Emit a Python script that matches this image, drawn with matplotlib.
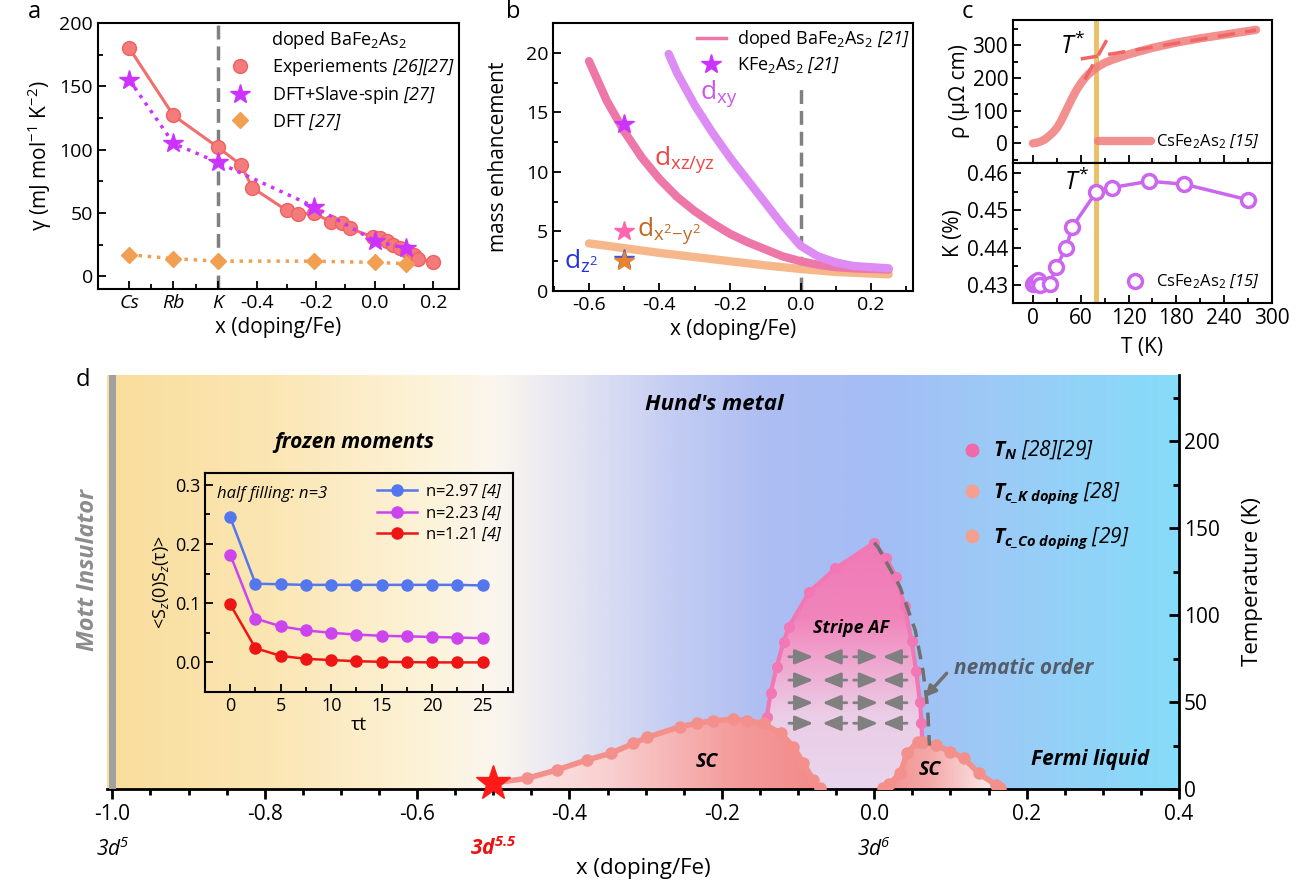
import numpy as np
import matplotlib
matplotlib.use('Agg')
import matplotlib.pyplot as plt
from matplotlib.lines import Line2D
from matplotlib.patches import Polygon
from matplotlib.colors import LinearSegmentedColormap
from matplotlib.ticker import MultipleLocator, FixedLocator

plt.rcParams['font.family'] = ['Open Sans', 'DejaVu Sans']
plt.rcParams['mathtext.fontset'] = 'custom'
plt.rcParams['mathtext.rm'] = 'Open Sans'
plt.rcParams['mathtext.it'] = 'Open Sans:italic'
plt.rcParams['mathtext.sf'] = 'Open Sans:italic'
plt.rcParams['mathtext.bf'] = 'Open Sans:italic:bold'
plt.rcParams['axes.linewidth'] = 1.5
plt.rcParams['axes.unicode_minus'] = False

# ---------------- data: panel a ----------------
cat_names = ['Cs', 'Rb', 'K']
cat_pos = [-0.836, -0.686, -0.535]
exp_x = cat_pos + [-0.456, -0.417, -0.30, -0.26, -0.207, -0.15, -0.11, -0.086,
                   -0.006, 0.017, 0.04, 0.063, 0.086, 0.109, 0.132, 0.149, 0.2]
exp_gamma = [180, 127, 102, 88, 70, 52, 49, 50, 43, 42, 38,
             31, 30, 28, 25, 22, 20, 17, 14, 11]
theo_x = cat_pos + [-0.207, 0.0, 0.106]
slave_gamma = [155, 105, 90, 55, 28, 22]
dft_gamma = [17, 14, 12, 12, 11, 10]

# ---------------- data: panel b ----------------
xz_x = [-0.6, -0.55, -0.5, -0.45, -0.4, -0.35, -0.3, -0.25, -0.2, -0.15, -0.1,
        -0.05, 0.0, 0.05, 0.1, 0.15, 0.2, 0.25]
xz_m = [19.3, 16.0, 13.4, 11.2, 9.4, 7.9, 6.7, 5.7, 4.8, 4.1, 3.5,
        2.9, 2.5, 2.2, 2.0, 1.9, 1.85, 1.8]
xy_x = [-0.374, -0.35, -0.3, -0.25, -0.2, -0.15, -0.1, -0.05, 0.0, 0.05, 0.1, 0.15, 0.2, 0.25]
xy_m = [19.9, 18.3, 15.6, 13.3, 11.2, 9.3, 7.4, 5.5, 3.8, 2.9, 2.4, 2.1, 2.0, 1.9]
eg_x = [-0.6, -0.5, -0.4, -0.3, -0.2, -0.1, 0.0, 0.1, 0.25]
x2y2_m = [4.0, 3.6, 3.2, 2.85, 2.5, 2.15, 1.85, 1.6, 1.4]
z2_m = [3.8, 3.4, 3.0, 2.65, 2.3, 1.95, 1.65, 1.45, 1.3]
kfe_x = -0.5
kfe_stars = [14.0, 5.0, 2.7, 2.5]
kfe_colors = ['#cc33ff', '#ff66b0', '#4455dd', '#e8842c']

# ---------------- data: panel c ----------------
rho_T = [0, 5, 10, 15, 20, 25, 30, 35, 40, 45, 50, 55, 60, 65, 70, 75, 80,
         90, 100, 120, 150, 180, 210, 240, 280]
rho = [0, 2, 6, 12, 22, 33, 47, 67, 92, 117, 142, 164, 183, 199, 212, 223, 232,
       246, 256, 272, 292, 308, 321, 332, 347]
fit_hi_T = [60, 280]
fit_hi_rho = [258, 346]
fit_lo_T = [65, 97]
fit_lo_rho = [195, 335]
nmr_T = [0, 3, 6, 9, 21, 29, 42, 49, 79, 99, 146, 190, 270]
nmr_K = [0.4302, 0.4308, 0.4312, 0.4300, 0.4302, 0.4347, 0.4400, 0.4454,
         0.4548, 0.4561, 0.4578, 0.4570, 0.4528]
t_star = 80

# ---------------- data: panel d ----------------
tn_x = [-0.141, -0.136, -0.128, -0.119, -0.112, -0.085, -0.051, 0.0,
        0.015, 0.029, 0.040, 0.049, 0.055, 0.060, 0.062, 0.063]
tn_T = [41.6, 55.0, 70.3, 84.7, 93.3, 113.4, 126.8, 141.6,
        133, 122, 105, 85, 68, 50, 38, 27]
tck_x = [-0.5, -0.456, -0.417, -0.377, -0.346, -0.316, -0.298, -0.255, -0.233,
         -0.211, -0.185, -0.167, -0.145, -0.123, -0.106, -0.093, -0.080, -0.071]
tck_T = [3.5, 6.1, 10.9, 16.7, 20.5, 26.2, 29.7, 35.8, 37.7,
         39.3, 40.0, 39.3, 37.7, 32.0, 24.3, 14.8, 5.2, 0.5]
tcco_x = [0.012, 0.020, 0.034, 0.043, 0.057, 0.064, 0.081, 0.0995, 0.118, 0.137, 0.16, 0.165]
tcco_T = [0.5, 3.0, 9.0, 20.5, 27.2, 27.2, 25.3, 21.5, 17.6, 9.0, 2.3, 0.5]
nem_x = [0.0, 0.005, 0.034, 0.054, 0.064, 0.070, 0.0725]
nem_T = [141.6, 139, 116, 91, 68, 47, 25]

tau = [0, 2.5, 5, 7.5, 10, 12.5, 15, 17.5, 20, 22.5, 25]
s297 = [0.245, 0.133, 0.132, 0.131, 0.131, 0.131, 0.131, 0.131, 0.131, 0.131, 0.130]
s223 = [0.182, 0.074, 0.061, 0.054, 0.050, 0.047, 0.045, 0.044, 0.043, 0.042, 0.041]
s121 = [0.098, 0.024, 0.011, 0.006, 0.004, 0.002, 0.001, 0.0005, 0.0, 0.0, 0.0]

W, H = 1309, 890
fig = plt.figure(figsize=(W / 100, H / 100), dpi=100)


def box(l, t, r, b):
    return [l / W, 1 - b / H, (r - l) / W, (b - t) / H]


def style_in(ax, size):
    ax.tick_params(which='both', direction='in', labelsize=size, width=1.3)
    ax.tick_params(which='major', length=6)
    ax.tick_params(which='minor', length=3.5)


# ================= panel a =================
ax_a = fig.add_axes(box(98, 23, 459, 289))
ax_a.axvline(cat_pos[2], color='#808080', lw=2.5, dashes=(4, 2), zorder=1)
ax_a.plot(exp_x, exp_gamma, '-', color='#f26d6d', lw=2.2, zorder=2)
ax_a.plot(exp_x, exp_gamma, 'o', color='#f47b7b', ms=10, mec='#f26060', zorder=3,
          label=r'Experiements $\mathsf{[26][27]}$')
ax_a.plot(theo_x, slave_gamma, ':', color='#cc33ff', lw=2.5, zorder=4)
ax_a.plot(theo_x, slave_gamma, '*', color='#cc33ff', ms=15, zorder=5,
          label=r'DFT+Slave-spin $\mathsf{[27]}$')
ax_a.plot(theo_x, dft_gamma, ':', color='#f0a050', lw=2.5, zorder=4)
ax_a.plot(theo_x, dft_gamma, 'D', color='#f0a050', ms=8, zorder=5,
          label=r'DFT $\mathsf{[27]}$')
ax_a.set_xlim(-0.943, 0.287)
ax_a.set_ylim(-10, 200)
ax_a.set_xticks(cat_pos + [-0.4, -0.2, 0.0, 0.2])
ax_a.set_xticklabels(cat_names + ['-0.4', '-0.2', '0.0', '0.2'])
for lab in ax_a.get_xticklabels()[:3]:
    lab.set_fontstyle('italic')
ax_a.xaxis.set_minor_locator(FixedLocator([-0.761, -0.61, -0.3, -0.1, 0.1]))
ax_a.yaxis.set_major_locator(MultipleLocator(50))
ax_a.yaxis.set_minor_locator(MultipleLocator(25))
style_in(ax_a, 14)
ax_a.set_xlabel('x (doping/Fe)', fontsize=15, labelpad=4)
ax_a.set_ylabel(r'γ (mJ mol$^{-1}$ K$^{-2}$)', fontsize=15, labelpad=4)
ax_a.legend(loc='upper right', bbox_to_anchor=(1.02, 1.02), frameon=False,
            fontsize=13, title=r'doped BaFe$_2$As$_2$', title_fontsize=13,
            handletextpad=0.8, labelspacing=0.35, borderaxespad=0.2)

# ================= panel b =================
ax_b = fig.add_axes(box(553, 23, 913, 291))
ax_b.axvline(0.0, ymax=17 / 22.5, color='#808080', lw=2.5, dashes=(4, 2), zorder=1)
ax_b.plot(eg_x, z2_m, color='#5a5ae0', lw=1.3, zorder=2)
ax_b.plot(eg_x, x2y2_m, color='#f6b88a', lw=6, solid_capstyle='round', zorder=3)
ax_b.plot(xz_x, xz_m, color='#ee77aa', lw=6, solid_capstyle='round', zorder=3)
ax_b.plot(xy_x, xy_m, color='#dd8cf3', lw=6, solid_capstyle='round', zorder=3)
for val, col in zip(kfe_stars, kfe_colors):
    ax_b.plot(kfe_x, val, '*', color=col, ms=15, zorder=6)
ax_b.text(-0.285, 16.6, r'd$_{\mathrm{xy}}$', color='#cc55ee', fontsize=19, ha='left', va='center')
ax_b.text(-0.415, 11.0, r'd$_{\mathrm{xz/yz}}$', color='#ee4444', fontsize=19, ha='left', va='center')
ax_b.text(-0.465, 5.1, r'd$_{\mathrm{x^2\!-\!y^2}}$', color='#c06a20', fontsize=19, ha='left', va='center')
ax_b.text(-0.67, 2.5, r'd$_{\mathrm{z^2}}$', color='#2233dd', fontsize=19, ha='left', va='center')
ax_b.set_xlim(-0.702, 0.319)
ax_b.set_ylim(0, 22.5)
ax_b.xaxis.set_minor_locator(MultipleLocator(0.1))
ax_b.yaxis.set_major_locator(MultipleLocator(5))
ax_b.yaxis.set_minor_locator(MultipleLocator(2.5))
ax_b.set_xticks([-0.6, -0.4, -0.2, 0.0, 0.2])
ax_b.set_xticklabels(['-0.6', '-0.4', '-0.2', '0.0', '0.2'])
style_in(ax_b, 14)
ax_b.set_xlabel('x (doping/Fe)', fontsize=15, labelpad=4)
ax_b.set_ylabel('mass enhancement', fontsize=15, labelpad=12)
hb = [Line2D([], [], color='#ee77aa', lw=2.5),
      Line2D([], [], ls='none', marker='*', color='#cc33ff', ms=15)]
ax_b.legend(hb, [r'doped BaFe$_2$As$_2$ $\mathsf{[21]}$', r'KFe$_2$As$_2$ $\mathsf{[21]}$'],
            loc='upper right', bbox_to_anchor=(1.02, 1.02), frameon=False, fontsize=13,
            handlelength=1.6, handletextpad=0.6, labelspacing=0.3, borderaxespad=0.2)

# ================= panel c =================
ax_c1 = fig.add_axes(box(1013, 20, 1272, 163))
ax_c2 = fig.add_axes(box(1013, 163, 1272, 303), sharex=ax_c1)
for axc in (ax_c1, ax_c2):
    axc.axvspan(t_star - 3.5, t_star + 3.5, color='#ebc068', zorder=1, lw=0)
ax_c1.plot(rho_T, rho, color='#f07c7c', lw=6, alpha=0.85, solid_capstyle='round', zorder=3,
           label=r'CsFe$_2$As$_2$ $\mathsf{[15]}$')
ax_c1.plot(fit_hi_T, fit_hi_rho, color='#f06666', lw=2.5, dashes=(5, 3), zorder=4)
ax_c1.plot(fit_lo_T, fit_lo_rho, color='#f06666', lw=2.5, dashes=(5, 3), zorder=4)
ax_c1.text(50, 295, r'$T^{*}$', fontsize=18, ha='center', va='center')
ax_c1.set_ylim(-60, 377)
ax_c1.yaxis.set_major_locator(MultipleLocator(100))
ax_c1.yaxis.set_minor_locator(MultipleLocator(50))
ax_c1.legend(loc='lower right', frameon=False, fontsize=12, handlelength=3.2,
             handletextpad=0.3, borderaxespad=0.3)
ax_c1.set_ylabel('ρ (μΩ cm)', fontsize=15, labelpad=2)
ax_c1.tick_params(labelbottom=False)

ax_c2.plot(nmr_T, nmr_K, '-', color='#cc66ee', lw=2.5, zorder=3)
ax_c2.plot(nmr_T, nmr_K, 'o', mfc='white', mec='#cc66ee', mew=2.5, ms=10, zorder=4,
           label=r'CsFe$_2$As$_2$ $\mathsf{[15]}$')
ax_c2.text(55, 0.4575, r'$T^{*}$', fontsize=18, ha='center', va='center')
ax_c2.set_ylim(0.4251, 0.4627)
ax_c2.yaxis.set_major_locator(MultipleLocator(0.01))
ax_c2.yaxis.set_minor_locator(MultipleLocator(0.005))
ax_c2.set_xlim(-25, 300)
ax_c2.xaxis.set_major_locator(MultipleLocator(60))
ax_c2.xaxis.set_minor_locator(MultipleLocator(30))
ax_c2.legend(loc='lower right', frameon=False, fontsize=12, handletextpad=0.3,
             borderaxespad=0.3)
ax_c2.set_ylabel('K (%)', fontsize=15, labelpad=2)
ax_c2.set_xlabel('T (K)', fontsize=15, labelpad=6)
for axc in (ax_c1, ax_c2):
    style_in(axc, 15)

# ================= panel d =================
ax_d = fig.add_axes(box(107, 375, 1179, 789))
x0, x1, t1 = -1.007, 0.4, 238
bg = LinearSegmentedColormap.from_list('bg', [
    (0.0, '#f9dd9c'), (0.15, '#fbe6b3'), (0.30, '#fdf3da'), (0.36, '#fbf6ee'),
    (0.43, '#e6e6f2'), (0.53, '#c3ccf2'), (0.62, '#adbdf3'), (0.72, '#a4bdf5'),
    (0.83, '#9ccaf6'), (1.0, '#86dcfa')])
ax_d.imshow(np.linspace(0, 1, 512)[None, :], cmap=bg, aspect='auto',
            extent=[x0, x1, 0, t1], zorder=0, interpolation='bilinear')

# stripe AF dome with vertical gradient
af_poly = Polygon(list(zip([tn_x[0]] + tn_x + [tn_x[-1]], [0] + tn_T + [0])),
                  closed=True, fc='none', ec='none')
ax_d.add_patch(af_poly)
af_cm = LinearSegmentedColormap.from_list('af', [
    (0.0, '#e8d6ee'), (0.3, '#ebcde6'), (0.55, '#f0a0cc'), (0.7, '#f084bb'), (1.0, '#f07ab6')])
im = ax_d.imshow(np.linspace(0, 1, 256)[:, None], cmap=af_cm, aspect='auto', origin='lower',
                 extent=[-0.2, 0.1, 0, max(tn_T)], zorder=1)
im.set_clip_path(af_poly)

# SC domes with horizontal gradients
sc1_poly = Polygon(list(zip(tck_x + [tck_x[-1], tck_x[0]], tck_T + [0, 0])),
                   closed=True, fc='none', ec='none')
ax_d.add_patch(sc1_poly)
sc1_cm = LinearSegmentedColormap.from_list('sc1', [
    (0.0, '#fbeceb'), (0.35, '#f9d0d0'), (0.75, '#f49a9a'), (1.0, '#f28a8a')])
im1 = ax_d.imshow(np.linspace(0, 1, 256)[None, :], cmap=sc1_cm, aspect='auto',
                  extent=[min(tck_x), max(tck_x), 0, 45], zorder=2)
im1.set_clip_path(sc1_poly)

sc2_poly = Polygon(list(zip(tcco_x, tcco_T)), closed=True, fc='none', ec='none')
ax_d.add_patch(sc2_poly)
sc2_cm = LinearSegmentedColormap.from_list('sc2', [
    (0.0, '#f28e8e'), (0.4, '#f4a8a8'), (1.0, '#fdf2f2')])
im2 = ax_d.imshow(np.linspace(0, 1, 256)[None, :], cmap=sc2_cm, aspect='auto',
                  extent=[min(tcco_x), max(tcco_x), 0, 30], zorder=2)
im2.set_clip_path(sc2_poly)

ax_d.plot(tn_x, tn_T, '-o', color='#f277b5', lw=3, ms=7, zorder=4)
ax_d.plot(tck_x, tck_T, '-o', color='#f4908c', lw=4, ms=8, zorder=5)
ax_d.plot(tcco_x, tcco_T, '-o', color='#f4908c', lw=4, ms=8, zorder=5)
ax_d.plot(nem_x, nem_T, color='#707070', lw=2.5, dashes=(4, 2.5), zorder=6)
ax_d.plot(tck_x[0], tck_T[0], '*', color='#ff1a1a', ms=26, zorder=7, clip_on=False)

# spin arrows in the stripe phase
for T in [76, 62.6, 49.6, 37.8]:
    for xa, xb in [(-0.112, -0.080), (-0.036, -0.068), (-0.027, 0.005), (0.043, 0.011)]:
        ax_d.annotate('', xy=(xb, T), xytext=(xa, T), zorder=6,
                      arrowprops=dict(arrowstyle='-|>,head_length=1.1,head_width=0.45',
                                      color='#808080', lw=2, shrinkA=0, shrinkB=0))

ax_d.annotate('', xy=(0.067, 53), xytext=(0.095, 66.5), zorder=6,
              arrowprops=dict(arrowstyle='-|>,head_length=0.6,head_width=0.3',
                              color='#707070', lw=2.5, shrinkA=0, shrinkB=0))

bi = dict(fontweight='bold', fontstyle='italic')
ax_d.text(-0.21, 221, "Hund's metal", fontsize=16, ha='center', va='center', **bi)
ax_d.text(-0.682, 199, 'frozen moments', fontsize=15, ha='center', va='center', **bi)
ax_d.text(-0.031, 92.5, 'Stripe AF', fontsize=13, ha='center', va='center', **bi)
ax_d.text(-0.22, 15.7, 'SC', fontsize=14, ha='center', va='center', **bi)
ax_d.text(0.073, 11, 'SC', fontsize=14, ha='center', va='center', **bi)
ax_d.text(0.283, 16.7, 'Fermi liquid', fontsize=15, ha='center', va='center', **bi)
ax_d.text(0.105, 69, 'nematic order', fontsize=15, ha='left', va='center',
          color='#555d6a', **bi)

ax_d.axvline(-1.0, color='#a0a0a0', lw=5, zorder=3)
ax_d.set_xlim(x0, x1)
ax_d.set_ylim(0, t1)
ax_d.spines['left'].set_visible(False)
ax_d.spines['top'].set_visible(False)
ax_d.spines['bottom'].set_linewidth(2)
ax_d.spines['right'].set_linewidth(2)
ax_d.yaxis.tick_right()
ax_d.yaxis.set_label_position('right')
ax_d.set_xticks(np.round(np.arange(-1.0, 0.41, 0.2), 1))
ax_d.set_xticklabels(['-1.0', '-0.8', '-0.6', '-0.4', '-0.2', '0.0', '0.2', '0.4'])
ax_d.xaxis.set_minor_locator(MultipleLocator(0.05))
ax_d.yaxis.set_major_locator(MultipleLocator(50))
ax_d.yaxis.set_minor_locator(MultipleLocator(25))
ax_d.tick_params(axis='x', which='both', direction='out', labelsize=15, width=2)
ax_d.tick_params(axis='y', which='both', direction='in', labelsize=15, width=2)
ax_d.tick_params(which='major', length=7)
ax_d.tick_params(which='minor', length=4)
ax_d.set_ylabel('Temperature (K)', fontsize=16, labelpad=16)
ax_d.set_xlabel('x (doping/Fe)', fontsize=16, labelpad=24)

tr = ax_d.get_xaxis_transform()
ax_d.text(-1.0, -0.145, r'$\mathsf{3d^{5}}$', transform=tr, fontsize=15, ha='center', va='center')
ax_d.text(-0.5, -0.145, r'$\mathbf{3d^{5.5}}$', transform=tr, fontsize=15, ha='center',
          va='center', color='#ee1111')
ax_d.text(0.0, -0.145, r'$\mathsf{3d^{6}}$', transform=tr, fontsize=15, ha='center', va='center')

hd = [Line2D([], [], ls='none', marker='o', ms=9, color='#f06aaa'),
      Line2D([], [], ls='none', marker='o', ms=9, color='#f5a08e'),
      Line2D([], [], ls='none', marker='o', ms=9, color='#f5a08e')]
ax_d.legend(hd, [r'$\mathbf{T_N}$ [28][29]', r'$\mathbf{T_{c\_K\ doping}}$ [28]',
                 r'$\mathbf{T_{c\_Co\ doping}}$ [29]'],
            loc='upper left', bbox_to_anchor=(0.778, 0.89), frameon=False,
            prop={'size': 15, 'style': 'italic'}, handletextpad=0.4, labelspacing=0.9,
            handlelength=1.2)

fig.text(88 / W, 1 - 570 / H, 'Mott Insulator', rotation=90, fontsize=17, color='#8c8c8c',
         ha='center', va='center', **bi)

# ---- inset ----
ax_in = fig.add_axes(box(205, 473, 513, 692))
ax_in.patch.set_alpha(0)
ax_in.plot(tau, s297, '-o', color='#5577ee', lw=1.8, ms=8, label=r'n=2.97 $\mathsf{[4]}$')
ax_in.plot(tau, s223, '-o', color='#cc44ee', lw=1.8, ms=8, label=r'n=2.23 $\mathsf{[4]}$')
ax_in.plot(tau, s121, '-o', color='#ee1515', lw=1.8, ms=8, label=r'n=1.21 $\mathsf{[4]}$')
ax_in.set_xlim(-2.5, 28)
ax_in.set_ylim(-0.05, 0.32)
ax_in.xaxis.set_major_locator(MultipleLocator(5))
ax_in.xaxis.set_minor_locator(MultipleLocator(2.5))
ax_in.yaxis.set_major_locator(MultipleLocator(0.1))
ax_in.yaxis.set_minor_locator(MultipleLocator(0.05))
style_in(ax_in, 13)
ax_in.set_xlabel('τt', fontsize=14, labelpad=1)
ax_in.set_ylabel(r'<S$_z$(0)S$_z$(τ)>', fontsize=13, labelpad=3)
ax_in.text(0.04, 0.905, 'half filling: n=3', transform=ax_in.transAxes, fontsize=12,
           fontstyle='italic', ha='left', va='center')
ax_in.legend(loc='upper right', frameon=False, fontsize=12, handlelength=2.4,
             handletextpad=0.5, labelspacing=0.25, borderaxespad=0.2)

for lab, xp, yp in [('a', 34, 12), ('b', 513, 12), ('c', 967, 12), ('d', 83, 380)]:
    fig.text(xp / W, 1 - yp / H, lab, fontsize=17, ha='center', va='center')

fig.savefig('out.png', dpi=100)
